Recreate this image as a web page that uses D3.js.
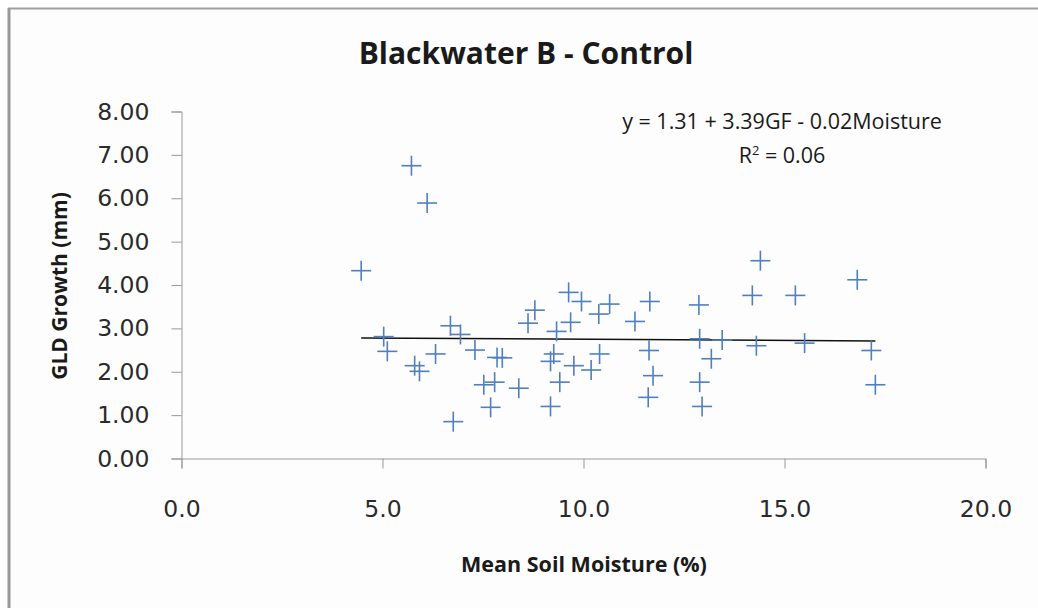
<!DOCTYPE html>
<html>
<head>
<meta charset="utf-8">
<script src="https://d3js.org/d3.v7.min.js"></script>
<style>
  body { margin: 0; background: #fff; }
  text { fill: #1a1a1a; }
  .tick text { font-family: "DejaVu Sans", sans-serif; font-size: 23.5px; fill: #2a2a2a; }
  .tick line, .domain { stroke: #999; }
</style>
</head>
<body>
<div id="chart"></div>
<script>
// data: mean soil moisture (%) vs GLD growth (mm)
var moisture = [4.47, 5.72, 6.11, 5.03, 5.12, 5.80, 5.92, 6.32, 6.69, 6.94,
                7.30, 7.85, 7.98, 7.52, 7.79, 8.39, 7.69, 6.76, 8.62, 8.79,
                9.63, 9.95, 9.68, 9.33, 10.38, 10.65, 11.28, 11.65, 12.87, 12.89,
                9.26, 9.18, 10.40, 9.76, 10.19, 9.41, 9.18, 11.63, 11.73, 11.61,
                12.89, 12.95, 13.18, 14.40, 14.20, 15.27, 16.81, 13.45, 14.30, 15.50,
                17.16, 17.26];
var growth   = [4.33, 6.75, 5.89, 2.81, 2.47, 2.14, 2.01, 2.41, 3.06, 2.86,
                2.50, 2.33, 2.32, 1.70, 1.76, 1.62, 1.18, 0.85, 3.12, 3.42,
                3.83, 3.62, 3.14, 2.93, 3.33, 3.56, 3.16, 3.62, 3.54, 2.76,
                2.41, 2.24, 2.41, 2.14, 2.04, 1.76, 1.20, 2.49, 1.91, 1.41,
                1.76, 1.20, 2.30, 4.56, 3.76, 3.76, 4.12, 2.73, 2.60, 2.66,
                2.49, 1.70];
// fitted line ends
var fitX = [4.47, 17.26];
var fitY = [2.78, 2.71];
var xTicks = [0, 5, 10, 15, 20];
var yTicks = [0, 1, 2, 3, 4, 5, 6, 7, 8];

var W = 1038, H = 608;
var svg = d3.select("#chart").append("svg")
    .attr("width", W).attr("height", H);

// chart frame
svg.append("rect")
    .attr("x", 9).attr("y", 8.5).attr("width", 1100).attr("height", 700)
    .attr("fill", "#fdfdfd").attr("stroke", "#a0a0a0").attr("stroke-width", 2);
svg.append("line").attr("x1", 9).attr("x2", 9).attr("y1", 8).attr("y2", H)
    .attr("stroke", "#999").attr("stroke-width", 3);

var x = d3.scaleLinear().domain([0, 20]).range([181.5, 985.5]);
var y = d3.scaleLinear().domain([0, 8]).range([458.5, 111.5]);

svg.append("g")
    .attr("transform", "translate(0," + y(0) + ")")
    .call(d3.axisBottom(x).tickValues(xTicks).tickFormat(d3.format(".1f"))
        .tickSizeOuter(0).tickSize(10).tickPadding(32));

svg.append("g")
    .attr("transform", "translate(" + x(0) + ",0)")
    .call(d3.axisLeft(y).tickValues(yTicks).tickFormat(d3.format(".2f"))
        .tickSizeOuter(0).tickSize(10).tickPadding(22));

// fitted line
svg.append("line")
    .attr("x1", x(fitX[0])).attr("y1", y(fitY[0]))
    .attr("x2", x(fitX[1])).attr("y2", y(fitY[1]))
    .attr("stroke", "#111").attr("stroke-width", 1.5);

// plus markers
var pts = moisture.map(function(m, i) { return [m, growth[i]]; });
var mk = svg.append("g").selectAll("g").data(pts).enter().append("g")
    .attr("transform", function(d) { return "translate(" + x(d[0]) + "," + y(d[1]) + ")"; });
mk.append("line").attr("x1", -10).attr("x2", 10).attr("y1", 0).attr("y2", 0);
mk.append("line").attr("x1", 0).attr("x2", 0).attr("y1", -10).attr("y2", 10);
mk.selectAll("line").attr("stroke", "#4f7fbf").attr("stroke-width", 1.6);

var font = "'Open Sans', sans-serif";

// title
svg.append("text")
    .attr("x", 526).attr("y", 64)
    .attr("text-anchor", "middle")
    .style("font-family", font)
    .style("font-weight", "bold").style("font-size", "30px")
    .text("Blackwater B - Control");

// axis titles
svg.append("text")
    .attr("x", 584).attr("y", 572)
    .attr("text-anchor", "middle")
    .style("font-family", font)
    .style("font-weight", "bold").style("font-size", "21.5px")
    .text("Mean Soil Moisture (%)");

svg.append("text")
    .attr("transform", "translate(67,286) rotate(-90)")
    .attr("text-anchor", "middle")
    .style("font-family", font)
    .style("font-weight", "bold").style("font-size", "21px")
    .text("GLD Growth (mm)");

// regression annotation
var ann = svg.append("text")
    .attr("text-anchor", "middle")
    .style("font-family", font)
    .style("font-size", "21.5px");
ann.append("tspan").attr("x", 782).attr("y", 129)
    .text("y = 1.31 + 3.39GF - 0.02Moisture");
var r2 = ann.append("tspan").attr("x", 782).attr("y", 163);
r2.text("R");
ann.append("tspan").attr("dy", -8).style("font-size", "13px").text("2");
ann.append("tspan").attr("dy", 8).text(" = 0.06");
</script>
</body>
</html>
